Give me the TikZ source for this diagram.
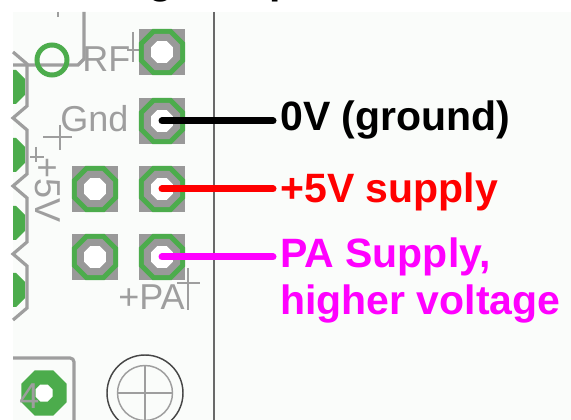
\documentclass[tikz,border=0pt]{standalone}
\usepackage{fontspec}
\setmainfont{Liberation Sans}
\usetikzlibrary{calc}
\definecolor{pcbbg}{RGB}{250,252,250}
\definecolor{pcbgreen}{RGB}{76,172,76}
\definecolor{padgray}{RGB}{153,153,153}
\definecolor{silk}{RGB}{158,158,158}
\definecolor{edgegray}{RGB}{105,105,105}
\definecolor{holeline}{RGB}{70,70,70}
\definecolor{lblred}{RGB}{255,0,0}
\definecolor{lblmag}{RGB}{255,0,255}
\newcommand\octpath[1]{(22.5:#1) -- (67.5:#1) -- (112.5:#1) -- (157.5:#1) -- (202.5:#1) -- (247.5:#1) -- (292.5:#1) -- (337.5:#1) -- cycle}
\begin{document}
\begin{tikzpicture}[x=0.75pt,y=-0.75pt,
  silkline/.style={draw=silk,line width=2.4pt},
  thinsilk/.style={draw=silk,line width=1.1pt},
  silktext/.style={text=silk,font=\fontsize{27}{32}\selectfont,inner sep=0pt,anchor=base west},
  lbl/.style={font=\fontsize{30.75}{36}\selectfont\bfseries,inner xsep=5.25pt,inner ysep=0pt,anchor=base west},
  frag/.style={font=\fontsize{30.75}{36}\selectfont\bfseries,inner sep=0pt,anchor=base west},
  wire/.style={line width=5.25pt,line cap=round},
  pics/pcbpad/.style={code={
    \fill[padgray] (-23,-23) rectangle (23,23);
    \fill[pcbgreen] \octpath{24.9};
    \fill[padgray] \octpath{19.5};
    \fill[white] \octpath{11.9};
  }}
]
\useasboundingbox (0,0) rectangle (571,420);
\clip (0,0) rectangle (571,420);
\fill[white] (0,0) rectangle (571,420);
% cut-off caption fragments at the top
\node[frag] (fg) at (148,-6) {g};
\node[frag] (fp) at (269,-6) {p};
% board background
\fill[pcbbg] (13,12) rectangle (571,420);
% left connector outline and half pads
\foreach \yc in {87,155,223,290}{
  \fill[pcbgreen] (13,{\yc-17}) -- (16,{\yc-17}) -- (25,{\yc-8}) -- (25,{\yc+8}) -- (16,{\yc+17}) -- (13,{\yc+17}) -- cycle;
}
\draw[silkline] (13,52) -- (27,64) -- (27,106) -- (13,118) -- (27,130) -- (27,174) -- (13,186) -- (27,198) -- (27,242) -- (13,254) -- (27,266) -- (27,308) -- (13,320);
% RF trace and ring
\draw[silkline] (13,65) -- (78,65) -- (84,59) -- (84,12);
\draw[thinsilk] (58,12) -- (58,17);
\draw[pcbgreen,line width=3.75pt] (52,60) circle[radius=15];
% silkscreen texts
\node[silktext] (rf) at (82,72) {RF};
\node[silktext] (gnd) at (60,132) {Gnd};
\node[silktext,rotate=-90] (v5) at (35,157) {+5V};
\node[silktext] (pa) at (118,310) {+PA};
% origin crosses
\draw[thinsilk] (133,32) -- (133,62) (127,50) -- (140,50);
\draw[thinsilk] (60,125) -- (60,150) (43,137) -- (72,137);
\draw[thinsilk] (36,147) -- (36,162) (30,157) -- (44,157);
\draw[thinsilk] (188,268) -- (188,310) (177,283) -- (200,283);
% header pads
\coordinate (prf) at (162,52);
\coordinate (pg) at (162,121);
\coordinate (p5l) at (95,189);
\coordinate (p5) at (162,189);
\coordinate (ppal) at (95,257);
\coordinate (ppa) at (162,257);
\foreach \c in {prf,pg,p5l,p5,ppal,ppa}{ \pic at (\c) {pcbpad}; }
% bottom-left part
\draw[silkline,rounded corners=3] (13,358) -- (74,358) -- (74,420);
\begin{scope}[shift={(44,393)}]
  \fill[pcbgreen] \octpath{24.4};
  \fill[white] \octpath{9.2};
\end{scope}
\node[silktext] (four) at (19,408) {4};
% mounting hole
\coordinate (mh) at (145,393);
\draw[holeline,line width=1.1pt] (mh) circle[radius=38];
\draw[silk,line width=1.1pt] (mh) circle[radius=27.5];
\draw[silk,line width=1.1pt] (118,393) -- (172,393) (145,366) -- (145,420);
% board edge
\draw[edgegray,line width=1.5pt] (214,12) -- (214,420);
% labels
\node[lbl] (lab0) at (273,131) {0V (ground)};
\node[lbl,text=lblred] (lab5) at (273,203) {+5V supply};
\node[lbl,text=lblmag] (labpa) at (273,268) {PA Supply,};
\node[lbl,text=lblmag] (labpb) at (273,315) {higher voltage};
% connectors
\draw[wire,black] (pg) -- (pg -| lab0.west);
\draw[wire,lblred] (p5) -- (p5 -| lab5.west);
\draw[wire,lblmag] (ppa) -- (ppa -| labpa.west);
\end{tikzpicture}
\end{document}
